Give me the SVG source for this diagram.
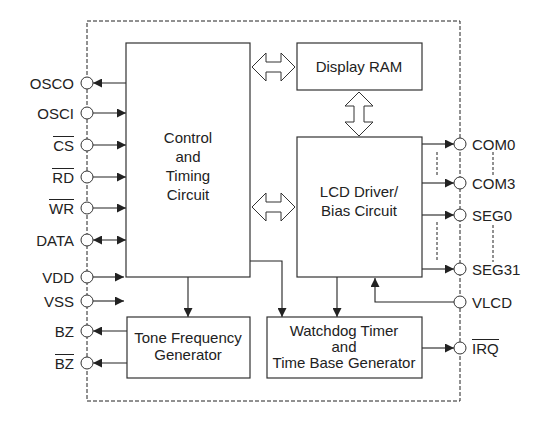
<svg xmlns="http://www.w3.org/2000/svg" width="553" height="423" viewBox="0 0 553 423">
<style>
text{font-family:"Liberation Sans",Arial,sans-serif;font-size:15px;fill:#222}
.pl{text-anchor:end}
.bx{text-anchor:middle}
.box{fill:#fff;stroke:#333;stroke-width:1.2}
.pin{fill:#fff;stroke:#333;stroke-width:1}
.ln{fill:none;stroke:#222;stroke-width:1.1}
.dot{fill:none;stroke:#222;stroke-width:1;stroke-dasharray:3,2}
.hol{fill:#fff;stroke:#333;stroke-width:1}
.ov{stroke:#222;stroke-width:1}
</style>
<defs>
<marker id="ah" viewBox="0 0 10 10" refX="10" refY="5" markerWidth="10" markerHeight="9" orient="auto-start-reverse" markerUnits="userSpaceOnUse"><path d="M0,0 L10,5 L0,10 z" fill="#222"/></marker>
</defs>
<rect width="553" height="423" fill="#fff"/>
<rect x="87" y="21" width="373" height="380" fill="none" stroke="#222" stroke-width="1" stroke-dasharray="4,2"/>
<g id="connectors">
<line class="ln" x1="126" y1="83" x2="93" y2="83" marker-end="url(#ah)"/>
<line class="ln" x1="93" y1="113" x2="126" y2="113" marker-end="url(#ah)"/>
<line class="ln" x1="93" y1="145" x2="126" y2="145" marker-end="url(#ah)"/>
<line class="ln" x1="93" y1="177" x2="126" y2="177" marker-end="url(#ah)"/>
<line class="ln" x1="93" y1="208" x2="126" y2="208" marker-end="url(#ah)"/>
<line class="ln" x1="93" y1="240" x2="126" y2="240" marker-start="url(#ah)" marker-end="url(#ah)"/>
<line class="ln" x1="93" y1="277" x2="124" y2="277" marker-end="url(#ah)"/>
<line class="ln" x1="93" y1="301" x2="124" y2="301" marker-end="url(#ah)"/>
<line class="ln" x1="127" y1="331" x2="93" y2="331" marker-end="url(#ah)"/>
<line class="ln" x1="127" y1="363" x2="93" y2="363" marker-end="url(#ah)"/>
<line class="ln" x1="422" y1="144" x2="454" y2="144" marker-end="url(#ah)"/>
<line class="ln" x1="422" y1="183" x2="454" y2="183" marker-end="url(#ah)"/>
<line class="ln" x1="422" y1="215" x2="454" y2="215" marker-end="url(#ah)"/>
<line class="ln" x1="422" y1="269" x2="454" y2="269" marker-end="url(#ah)"/>
<line class="ln" x1="422" y1="348" x2="454" y2="348" marker-end="url(#ah)"/>
<path class="ln" d="M454,302 H375 V278" marker-end="url(#ah)"/>
<path class="ln" d="M188,277 V317" marker-end="url(#ah)"/>
<path class="ln" d="M250,261 H282 V317" marker-end="url(#ah)"/>
<path class="ln" d="M337,277 V317" marker-end="url(#ah)"/>
<line class="dot" x1="437" y1="152" x2="437" y2="177"/>
<line class="dot" x1="437" y1="222" x2="437" y2="262"/>
<line class="dot" x1="493" y1="152" x2="493" y2="177"/>
<line class="dot" x1="493" y1="225" x2="493" y2="262"/>
<path class="hol" d="M252,67 L266,53 L266,62 L281,62 L281,53 L295,67 L281,81 L281,72 L266,72 L266,81 Z"/>
<path class="hol" d="M252,207 L266,193 L266,202 L281,202 L281,193 L295,207 L281,221 L281,212 L266,212 L266,221 Z"/>
<path class="hol" d="M359,92 L373,106 L364,106 L364,122 L373,122 L359,136 L345,122 L354,122 L354,106 L345,106 Z"/>
</g>
<g id="control">
<rect class="box" x="126" y="43" width="124" height="234"/>
<text class="bx" x="188" y="143">Control</text>
<text class="bx" x="188" y="162">and</text>
<text class="bx" x="188" y="181">Timing</text>
<text class="bx" x="188" y="200">Circuit</text>
</g>
<g id="ram">
<rect class="box" x="297" y="43" width="125" height="47"/>
<text class="bx" x="359" y="72">Display RAM</text>
</g>
<g id="lcd">
<rect class="box" x="297" y="137" width="125" height="140"/>
<text class="bx" x="359" y="197">LCD Driver/</text>
<text class="bx" x="359" y="216">Bias Circuit</text>
</g>
<g id="tone">
<rect class="box" x="127" y="317" width="123" height="61"/>
<text class="bx" x="188" y="343">Tone Frequency</text>
<text class="bx" x="188" y="360">Generator</text>
</g>
<g id="watchdog">
<rect class="box" x="267" y="317" width="155" height="61"/>
<text class="bx" x="344" y="336">Watchdog Timer</text>
<text class="bx" x="344" y="352">and</text>
<text class="bx" x="344" y="368">Time Base Generator</text>
</g>
<g id="pins-left">
<circle class="pin" cx="87" cy="83" r="6"/><text class="pl" x="74" y="88.5">OSCO</text>
<circle class="pin" cx="87" cy="113" r="6"/><text class="pl" x="74" y="118.5">OSCI</text>
<circle class="pin" cx="87" cy="145" r="6"/><text class="pl" x="74" y="150.5">CS</text><line class="ov" x1="53" y1="136.5" x2="74" y2="136.5"/>
<circle class="pin" cx="87" cy="177" r="6"/><text class="pl" x="74" y="182.5">RD</text><line class="ov" x1="52" y1="168.5" x2="74" y2="168.5"/>
<circle class="pin" cx="87" cy="208" r="6"/><text class="pl" x="74" y="213.5">WR</text><line class="ov" x1="49" y1="199.5" x2="74" y2="199.5"/>
<circle class="pin" cx="87" cy="240" r="6"/><text class="pl" x="74" y="245.5">DATA</text>
<circle class="pin" cx="87" cy="277" r="6"/><text class="pl" x="74" y="282.5">VDD</text>
<circle class="pin" cx="87" cy="301" r="6"/><text class="pl" x="74" y="306.5">VSS</text>
<circle class="pin" cx="87" cy="331" r="6"/><text class="pl" x="74" y="336.5">BZ</text>
<circle class="pin" cx="87" cy="363" r="6"/><text class="pl" x="74" y="368.5">BZ</text><line class="ov" x1="55" y1="354.5" x2="74" y2="354.5"/>
</g>
<g id="pins-right">
<circle class="pin" cx="460" cy="144" r="6"/><text x="472" y="149.5">COM0</text>
<circle class="pin" cx="460" cy="183" r="6"/><text x="472" y="188.5">COM3</text>
<circle class="pin" cx="460" cy="215" r="6"/><text x="472" y="220.5">SEG0</text>
<circle class="pin" cx="460" cy="269" r="6"/><text x="472" y="274.5">SEG31</text>
<circle class="pin" cx="460" cy="302" r="6"/><text x="472" y="307.5">VLCD</text>
<circle class="pin" cx="460" cy="348" r="6"/><text x="472" y="353.5">IRQ</text><line class="ov" x1="472" y1="339.5" x2="499" y2="339.5"/>
</g>
</svg>
